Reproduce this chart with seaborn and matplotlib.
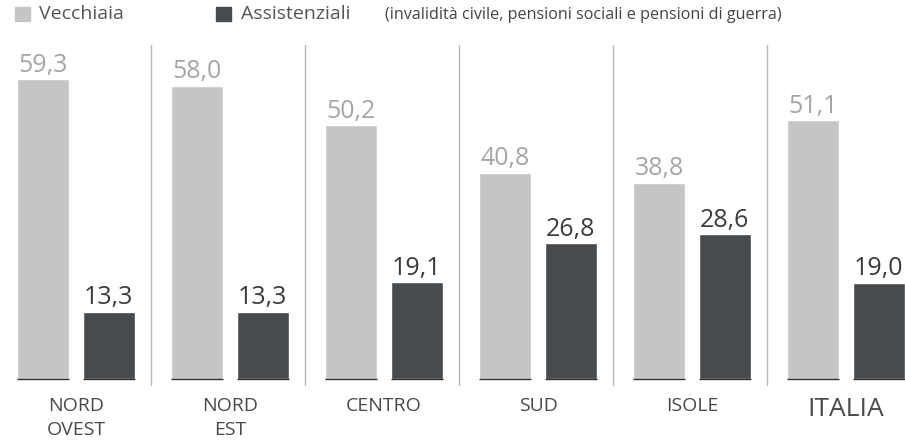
import matplotlib
matplotlib.use("Agg")
import matplotlib.pyplot as plt
import seaborn as sns
import pandas as pd

regions = ["NORD\nOVEST", "NORD\nEST", "CENTRO", "SUD", "ISOLE", "ITALIA"]
vecchiaia = [59.3, 58.0, 50.2, 40.8, 38.8, 51.1]
assistenziali = [13.3, 13.3, 19.1, 26.8, 28.6, 19.0]
series = ["Vecchiaia", "Assistenziali"]
note = "(invalidità civile, pensioni sociali e pensioni di guerra)"

LIGHT = "#c4c5c7"
DARK = "#484b4e"
LIGHT_TXT = "#a3a5a8"
DARK_TXT = "#3a3c3f"

df = pd.DataFrame({
    "regione": regions * 2,
    "tipo": [series[0]] * len(regions) + [series[1]] * len(regions),
    "valore": vecchiaia + assistenziali,
})

sns.set_theme(style="white")
plt.rcParams["font.family"] = ["Open Sans", "DejaVu Sans"]

fig = plt.figure(figsize=(9.05, 4.46), dpi=100)
ax = fig.add_axes([0, 0, 1, 1])

sns.barplot(data=df, x="regione", y="valore", hue="tipo", order=regions,
            hue_order=series, palette=[LIGHT, DARK], width=0.85, gap=0.2,
            legend=False, ax=ax, saturation=1)

# thin dark base under each bar
for cont in ax.containers:
    for p in cont.patches:
        ax.plot([p.get_x(), p.get_x() + p.get_width()], [0, 0],
                color="#2e3033", lw=1.0, solid_capstyle="butt")

# value labels with comma decimals
for cont, vals, col in zip(ax.containers, [vecchiaia, assistenziali], [LIGHT_TXT, DARK_TXT]):
    ax.bar_label(cont, labels=[f"{v:.1f}".replace(".", ",") for v in vals],
                 padding=1, fontsize=18, color=col)

# geometry: pixel-aligned limits
px_per_unit = 300 / 59.3
ax.set_ylim(-(446 - 379) / px_per_unit, 379 / px_per_unit)
ax.set_xlim(-76 / 154, (905 - 76) / 154)

# group separators
top_v = (379 - 45) / px_per_unit
bot_v = -(385 - 379) / px_per_unit
for i in range(len(regions) - 1):
    ax.plot([i + 0.49, i + 0.49], [bot_v, top_v], color="#b8b8b8", lw=1.0)

# category labels
for i, r in enumerate(regions):
    size = 19 if r == "ITALIA" else 14
    ax.text(i, -(397 - 379) / px_per_unit, r, ha="center", va="top",
            fontsize=size, color="#4a4a4a", linespacing=1.4)

ax.set_axis_off()

# legend
fig.patches.append(plt.Rectangle((15 / 905, 1 - 21 / 446), 15 / 905, 14 / 446,
                                 transform=fig.transFigure, color=LIGHT))
fig.patches.append(plt.Rectangle((216 / 905, 1 - 21 / 446), 15 / 905, 14 / 446,
                                 transform=fig.transFigure, color=DARK))
fig.text(39 / 905, 1 - 14 / 446, series[0], fontsize=14, color="#555555", va="center")
fig.text(241 / 905, 1 - 14 / 446, series[1], fontsize=14, color="#555555", va="center")
fig.text(385 / 905, 1 - 15 / 446, note, fontsize=11.6, color="#444444", va="center")

fig.savefig("out.png", dpi=100)
